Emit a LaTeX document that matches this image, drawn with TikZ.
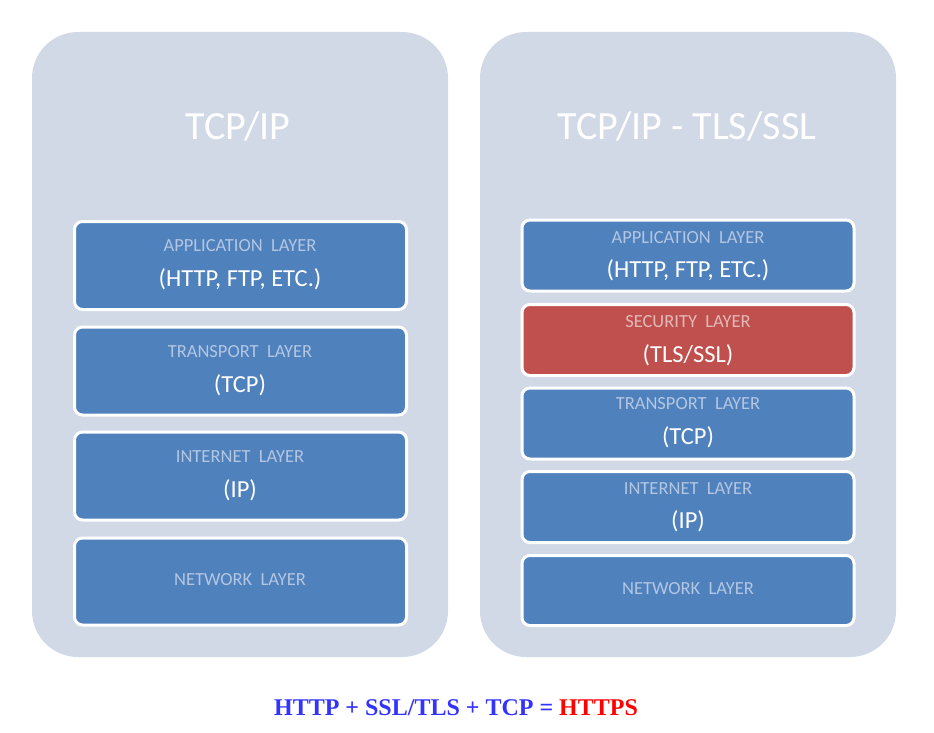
\documentclass[tikz,border=0pt]{standalone}
\usepackage{fontspec}
\setmainfont{Carlito}
\newfontfamily\timesb{Liberation Serif}
\definecolor{panelc}{HTML}{D1D9E7}
\definecolor{bluec}{HTML}{4F81BD}
\definecolor{redc}{HTML}{C0504D}
\definecolor{smallb}{HTML}{B3C6E2}
\definecolor{smallr}{HTML}{E3B9B8}
\definecolor{eqblue}{HTML}{3333FF}
\definecolor{eqred}{HTML}{FF0000}
\tikzset{
  panel/.style={fill=panelc, draw=none, rounded corners=46pt, minimum width=416pt, minimum height=625pt, inner sep=0pt},
  layer/.style={draw=white, line width=3pt, fill=bluec, rounded corners=8pt, minimum width=332pt, inner sep=0pt},
  seclayer/.style={layer, fill=redc},
  ttl/.style={text=white, font=\fontsize{40}{44}\selectfont},
  small/.style={text=smallb, font=\fontsize{18.5}{20}\selectfont},
  smallred/.style={text=smallr, font=\fontsize{18.5}{20}\selectfont},
  big/.style={text=white, font=\fontsize{24.5}{27}\selectfont},
}
\begin{document}
\begin{tikzpicture}[x=1pt,y=-1pt]
\useasboundingbox (0,0) rectangle (934,733);
% panels
\node[panel] (pl) at (240,344.5) {};
\node[panel] (pr) at (688,344.5) {};
\node[ttl] (tl) at (238,126) {TCP/IP};
\node[ttl] (tr) at (687,126) {TCP/IP - TLS/SSL};
% left stack
\node[layer, minimum height=88pt] (la) at (240.5,265.5) {};
\node[layer, minimum height=88pt] (lt) at (240.5,371) {};
\node[layer, minimum height=88pt] (li) at (240.5,476) {};
\node[layer, minimum height=87pt] (ln) at (240.5,581.5) {};
\node[small] (las) at (240,246) {APPLICATION\ \ LAYER};
\node[big] (lab) at (240,279) {(HTTP, FTP, ETC.)};
\node[small] (lts) at (240,352) {TRANSPORT\ \ LAYER};
\node[big] (ltb) at (240,385) {(TCP)};
\node[small] (lis) at (240,457) {INTERNET\ \ LAYER};
\node[big] (lib) at (240,490) {(IP)};
\node[small] (lns) at (240,580) {NETWORK\ \ LAYER};
% right stack
\node[layer, minimum height=71pt] (ra) at (688,255.5) {};
\node[seclayer, minimum height=71pt] (rs) at (688,340) {};
\node[layer, minimum height=71pt] (rt) at (688,423.5) {};
\node[layer, minimum height=71pt] (ri) at (688,507) {};
\node[layer, minimum height=70pt] (rn) at (688,590.5) {};
\node[small] (ras) at (688,238) {APPLICATION\ \ LAYER};
\node[big] (rab) at (688,270) {(HTTP, FTP, ETC.)};
\node[smallred] (rss) at (688,322) {SECURITY\ \ LAYER};
\node[big] (rsb) at (688,355) {(TLS/SSL)};
\node[small] (rts) at (688,404) {TRANSPORT\ \ LAYER};
\node[big] (rtb) at (688,437) {(TCP)};
\node[small] (ris) at (688,489) {INTERNET\ \ LAYER};
\node[big] (rib) at (688,521) {(IP)};
\node[small] (rns) at (688,589) {NETWORK\ \ LAYER};
% equation
\node[font=\timesb\bfseries\fontsize{24}{26}\selectfont] (eq) at (456,708)
  {\textcolor{eqblue}{HTTP + SSL/TLS + TCP =} \textcolor{eqred}{HTTPS}};
\end{tikzpicture}
\end{document}
